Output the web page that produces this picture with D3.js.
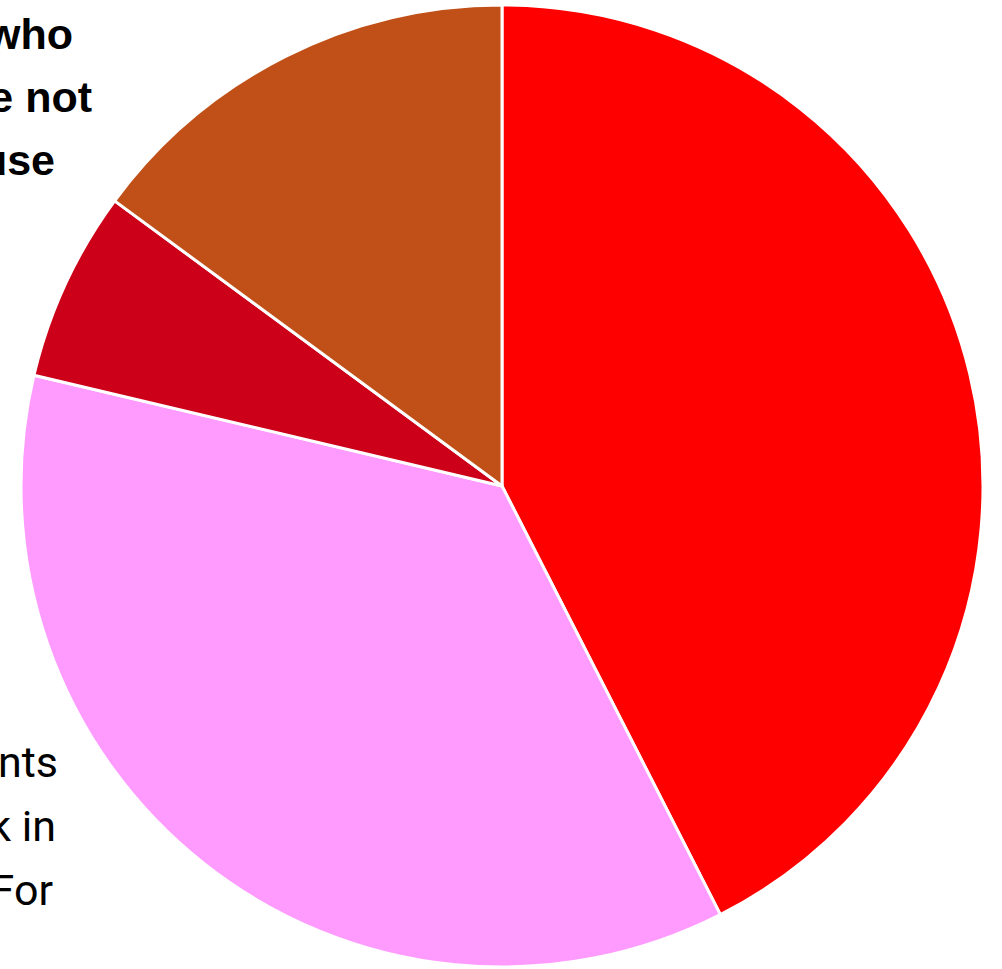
<!DOCTYPE html>
<html><head><meta charset="utf-8">
<script src="https://cdn.jsdelivr.net/npm/d3@7/dist/d3.min.js"></script>
<style>html,body{margin:0;padding:0;background:#fff;overflow:hidden}</style>
</head><body>
<svg id="chart" width="1002" height="969"></svg>
<script>
const categories = ["A", "B", "C", "D"];
const values = [42.5, 36.2, 6.4, 14.9];
const colors = ["#ff0000", "#ff9aff", "#cc0018", "#c05017"];
const boldLabel = ["who", "are not", "use"];
const regularLabel = ["students", "work in", "For"];

const svg = d3.select("#chart");
const cx = 502, cy = 486, r = 481;
const pie = d3.pie().sort(null).value(d => d.v);
const arc = d3.arc().innerRadius(0).outerRadius(r);
const data = categories.map((c, i) => ({c, v: values[i], col: colors[i]}));
const g = svg.append("g").attr("transform", `translate(${cx},${cy})`);
g.selectAll("path").data(pie(data)).join("path")
  .attr("d", arc).attr("fill", d => d.data.col)
  .attr("stroke", "#fff").attr("stroke-width", 3).attr("stroke-linejoin", "round");

const boldEnds = [73, 92, 55], boldY = [49, 112, 175];
svg.append("g").selectAll("text").data(boldLabel).join("text")
  .attr("x", (d, i) => boldEnds[i]).attr("y", (d, i) => boldY[i])
  .attr("text-anchor", "end")
  .style("font-family", "'Liberation Sans', Arial, sans-serif")
  .style("font-weight", "bold").style("font-size", "43px").attr("fill", "#000")
  .text(d => d);
const regEnds = [58, 56, 53], regY = [777, 841, 905];
svg.append("g").selectAll("text").data(regularLabel).join("text")
  .attr("x", (d, i) => regEnds[i]).attr("y", (d, i) => regY[i])
  .attr("text-anchor", "end")
  .style("font-family", "Roboto, sans-serif")
  .style("font-size", "43px").attr("fill", "#000")
  .text(d => d);
</script>
</body></html>
